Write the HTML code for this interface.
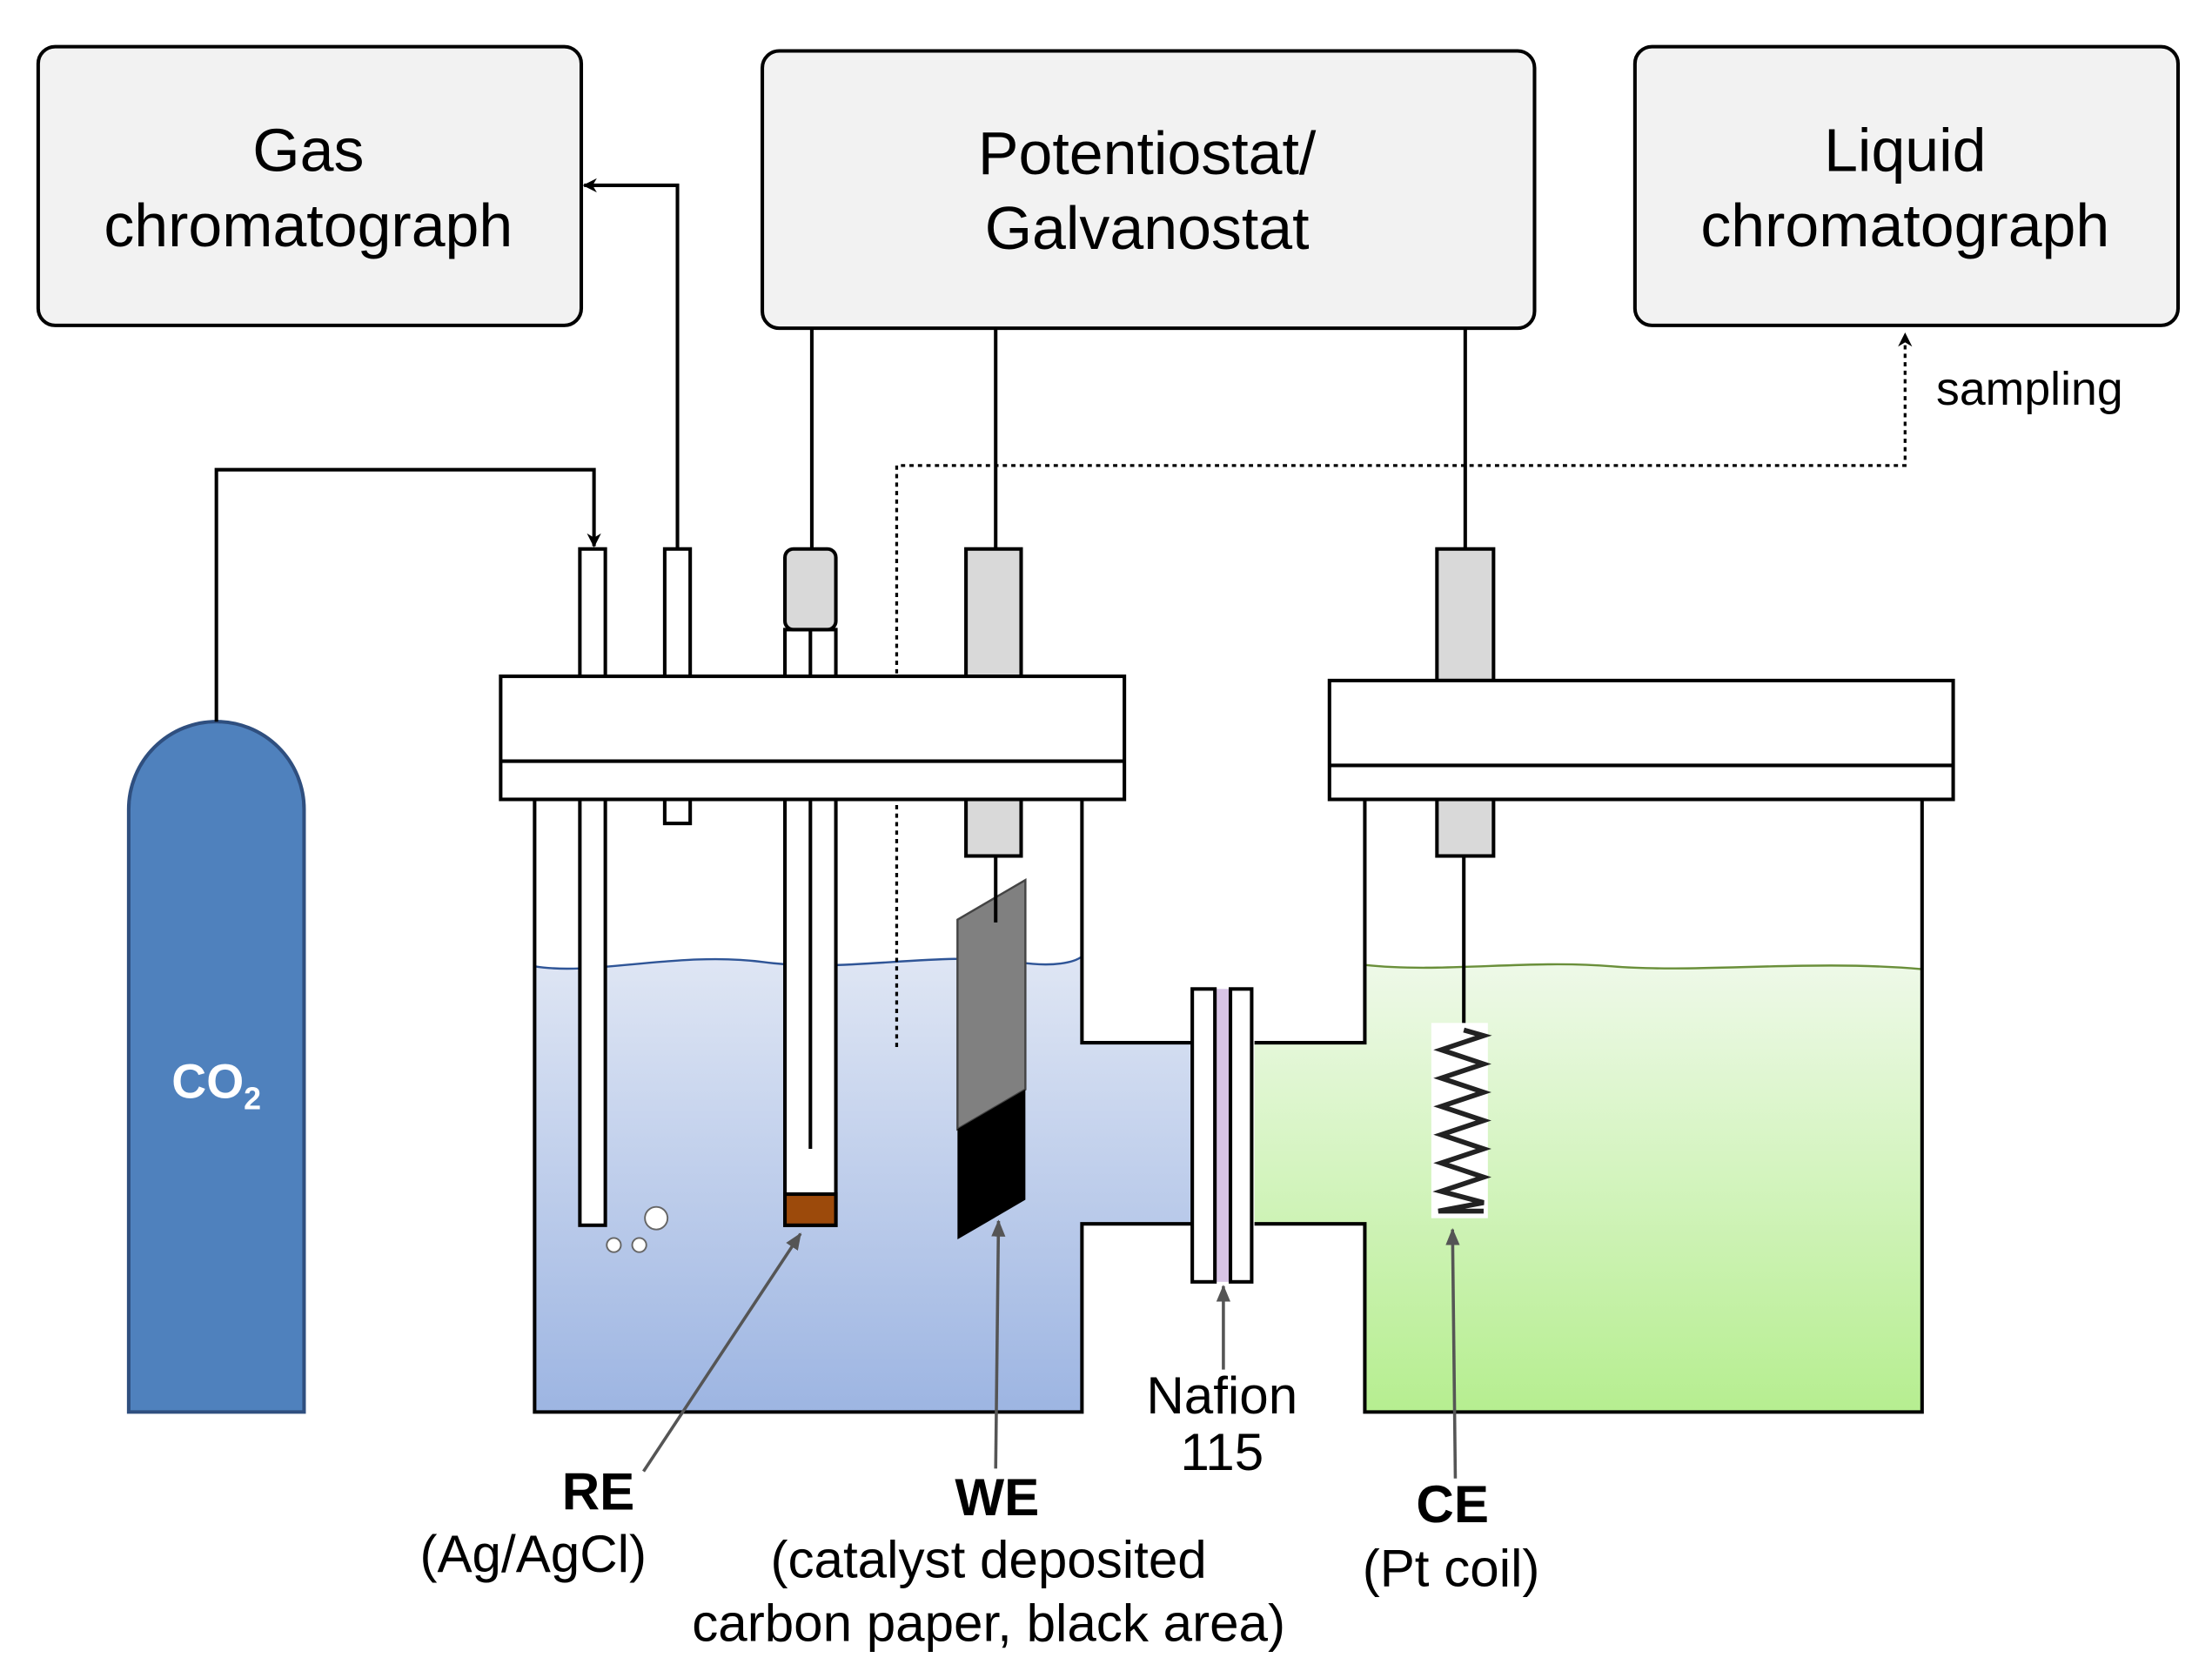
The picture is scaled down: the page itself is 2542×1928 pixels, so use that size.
<!DOCTYPE html>
<html><head><meta charset="utf-8"><style>html,body{margin:0;padding:0;background:#fff}svg{display:block}</style></head>
<body>
<svg width="2542" height="1928" viewBox="0 0 1564 1186" preserveAspectRatio="none" xmlns="http://www.w3.org/2000/svg" font-family="Liberation Sans, sans-serif">
<defs>
<linearGradient id="bl" x1="0" y1="0" x2="0" y2="1"><stop offset="0" stop-color="#dfe6f4"/><stop offset="1" stop-color="#9db5e2"/></linearGradient>
<linearGradient id="gr" x1="0" y1="0" x2="0" y2="1"><stop offset="0" stop-color="#eef9e8"/><stop offset="1" stop-color="#b6ee90"/></linearGradient>
<marker id="ah" markerWidth="10" markerHeight="10" refX="9" refY="5" orient="auto" markerUnits="userSpaceOnUse"><path d="M0,0 L10,5 L0,10 L3,5 z" fill="#000"/></marker>
<marker id="ag" markerWidth="12" markerHeight="12" refX="11" refY="6" orient="auto" markerUnits="userSpaceOnUse"><path d="M0,1 L12,6 L0,11 z" fill="#555"/></marker>
</defs>
<g stroke="#000" stroke-width="2.5" fill="#f2f2f2">
<rect x="27" y="33" width="384" height="197" rx="12"/>
<rect x="539" y="36" width="546" height="196" rx="12"/>
<rect x="1156" y="33" width="384" height="197" rx="12"/>
</g>
<g font-size="43" text-anchor="middle" fill="#000">
<text x="218" y="121">Gas</text><text x="218" y="174">chromatograph</text>
<text x="811" y="123">Potentiostat/</text><text x="811" y="176">Galvanostat</text>
<text x="1347" y="121">Liquid</text><text x="1347" y="174">chromatograph</text>
</g>
<path d="M91,998 L91,572 A62,62 0 0 1 215,572 L215,998 Z" fill="#4f81bd" stroke="#2f4f7f" stroke-width="2.5"/>
<text x="153" y="776" font-size="34" font-weight="bold" fill="#fff" text-anchor="middle">CO<tspan font-size="22" dy="8">2</tspan></text>
<g fill="none" stroke="#000" stroke-width="2.5">
<polyline points="153,510 153,332 420,332 420,386" marker-end="url(#ah)"/>
<polyline points="479,388 479,131 413,131" marker-end="url(#ah)"/>
<line x1="574" y1="232" x2="574" y2="388"/>
<line x1="704" y1="232" x2="704" y2="388"/>
<line x1="1036" y1="232" x2="1036" y2="388"/>
</g>
<path d="M378,683 C420,690 480,672 540,680 C600,688 660,672 720,680 C745,684 760,680 765,676 L765,737 L843,737 L843,865 L765,865 L765,998 L378,998 Z" fill="url(#bl)"/>
<path d="M378,683 C420,690 480,672 540,680 C600,688 660,672 720,680 C745,684 760,680 765,676" fill="none" stroke="#2f5597" stroke-width="1.5"/>
<path d="M965,682 C1020,688 1080,678 1140,683 C1200,688 1280,678 1359,685 L1359,998 L965,998 L965,865 L887,865 L887,737 L965,737 Z" fill="url(#gr)"/>
<path d="M965,682 C1020,688 1080,678 1140,683 C1200,688 1280,678 1359,685" fill="none" stroke="#6a8f3a" stroke-width="1.5"/>
<g fill="none" stroke="#000" stroke-width="2.5">
<polyline points="378,565 378,998 765,998 765,865 843,865"/>
<polyline points="765,565 765,737 843,737"/>
<polyline points="965,565 965,737 887,737"/>
<polyline points="887,865 965,865 965,998 1359,998 1359,565"/>
</g>
<polyline points="634,740 634,329 1347,329 1347,236" fill="none" stroke="#000" stroke-width="2" stroke-dasharray="3,3" marker-end="url(#ah)"/>
<text x="1369" y="286" font-size="33">sampling</text>
<g stroke="#000" stroke-width="2.5">
<rect x="410" y="388" width="18" height="478" fill="#fff"/>
<rect x="470" y="388" width="18" height="194" fill="#fff"/>
<rect x="555" y="445" width="36" height="421" fill="#fff"/>
<rect x="555" y="844" width="36" height="22" fill="#9c4a0b"/>
<rect x="555" y="388" width="36" height="57" rx="6" fill="#d9d9d9"/>
<line x1="573" y1="445" x2="573" y2="812"/>
<rect x="683" y="388" width="39" height="90" fill="#d9d9d9"/>
<rect x="683" y="565" width="39" height="40" fill="#d9d9d9"/>
<rect x="1016" y="388" width="40" height="93" fill="#d9d9d9"/>
<rect x="1016" y="565" width="40" height="40" fill="#d9d9d9"/>
<line x1="1035" y1="605" x2="1035" y2="725"/>
</g>
<g stroke="#000" stroke-width="2.5" fill="#fff">
<rect x="354" y="478" width="441" height="87"/>
<line x1="354" y1="538" x2="795" y2="538"/>
<rect x="940" y="481" width="441" height="84"/>
<line x1="940" y1="541" x2="1381" y2="541"/>
</g>
<g fill="#fff" stroke="#666" stroke-width="1.2">
<circle cx="464" cy="861" r="8"/><circle cx="434" cy="880" r="5"/><circle cx="452" cy="880" r="5"/>
</g>
<polygon points="677,650 725,622 725,770 677,798" fill="#808080" stroke="#444" stroke-width="1.5"/>
<polygon points="677,798 725,770 725,848 677,876" fill="#000"/>
<line x1="704" y1="605" x2="704" y2="652" stroke="#000" stroke-width="2.5"/>
<rect x="859" y="699" width="11" height="207" fill="#d8c4e6"/>
<rect x="843" y="699" width="16" height="207" fill="#fff" stroke="#000" stroke-width="2.5"/>
<rect x="870" y="699" width="15" height="207" fill="#fff" stroke="#000" stroke-width="2.5"/>
<rect x="1012" y="723" width="40" height="138" fill="#fff"/>
<path d="M1035,728 L1049,732 L1019,742 L1049,752 L1019,762 L1049,772 L1019,782 L1049,792 L1019,802 L1049,812 L1019,822 L1049,832 L1019,842 L1049,850 L1017,856 L1049,856" fill="none" stroke="#222" stroke-width="3.5"/>
<g stroke="#555" stroke-width="2.2" fill="none">
<line x1="455" y1="1040" x2="566" y2="872" marker-end="url(#ag)"/>
<line x1="704" y1="1038" x2="706" y2="863" marker-end="url(#ag)"/>
<line x1="865" y1="968" x2="865" y2="909" marker-end="url(#ag)"/>
<line x1="1029" y1="1045" x2="1027" y2="869" marker-end="url(#ag)"/>
</g>
<g font-size="37" text-anchor="middle" fill="#000">
<text x="423" y="1067" font-weight="bold">RE</text>
<text x="377" y="1111">(Ag/AgCl)</text>
<text x="705" y="1071" font-weight="bold">WE</text>
<text x="699" y="1115">(catalyst deposited</text>
<text x="699" y="1160">carbon paper, black area)</text>
<text x="864" y="999">Nafion</text>
<text x="864" y="1039">115</text>
<text x="1027" y="1076" font-weight="bold">CE</text>
<text x="1026" y="1121">(Pt coil)</text>
</g>
</svg>
</body></html>
